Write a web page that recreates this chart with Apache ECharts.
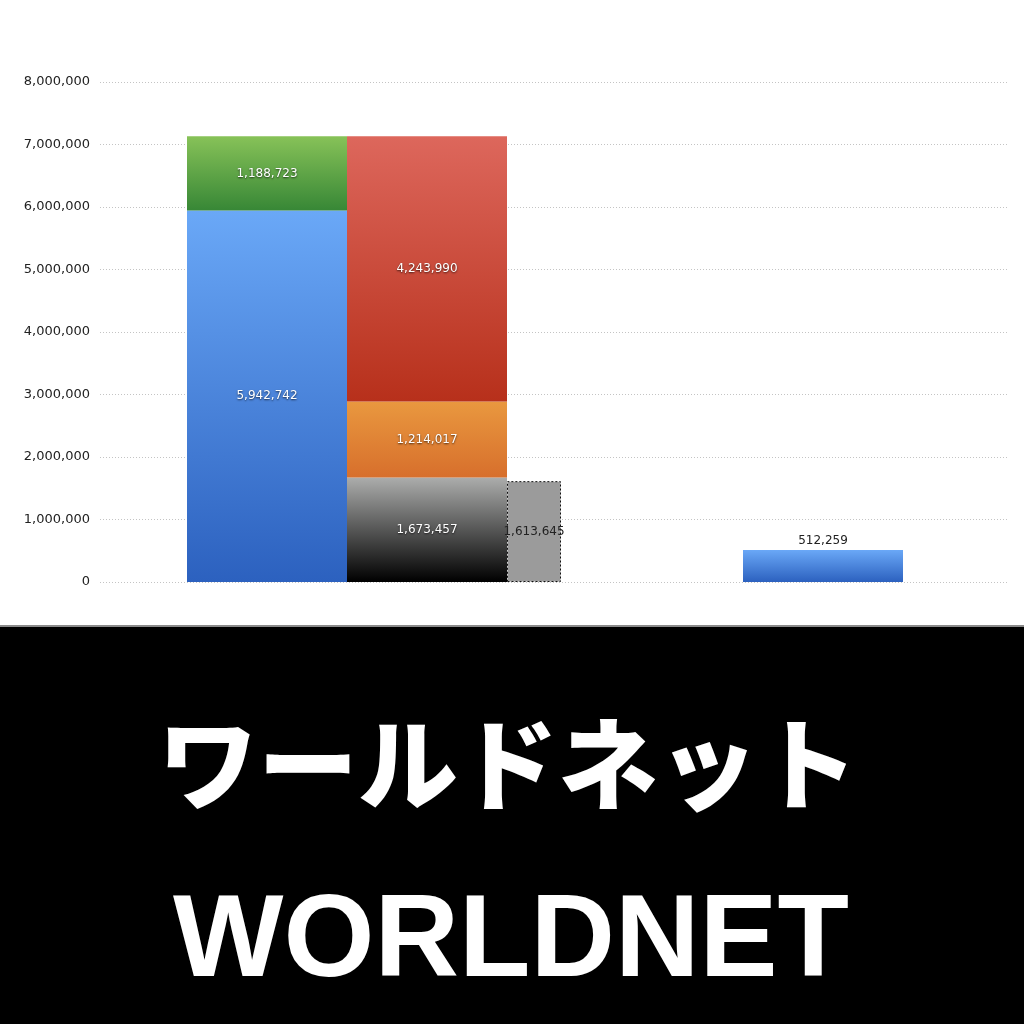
<html>
  <head>
    <meta charset="utf-8" />
    <script src="https://cdn.jsdelivr.net/npm/echarts@6/dist/echarts.min.js"></script>
  </head>
  <body>
    <style>
      html,
      body,
      #main {
        width: 100%;
        height: 100%;
        margin: 0;
        background: #fff;
      }
    </style>
    <div id="main"></div>
    <script>
      var chart = echarts.init(document.getElementById('main'));

      // two groups on the x axis (labels are not shown in the picture)
      const categories = ['group1', 'group2'];
      // left column: blue + green, plus the lone blue bar in group 2
      const blueValues = [5942742, 512259];
      const greenValues = [1188723, null];
      // middle column: black + orange + red
      const blackValues = [1673457, null];
      const orangeValues = [1214017, null];
      const redValues = [4243990, null];
      // narrow grey column
      const grayValues = [1613645, null];
      const yTicks = { min: 0, max: 8000000, interval: 1000000 };

      const fmt = function (v) {
        return Number(v).toLocaleString('en-US');
      };

      function grad(top, bottom) {
        return {
          type: 'linear', x: 0, y: 0, x2: 0, y2: 1,
          colorStops: [
            { offset: 0, color: top },
            { offset: 1, color: bottom }
          ]
        };
      }

      var inLabel = {
        show: true,
        position: 'inside',
        color: '#fff',
        fontFamily: 'DejaVu Sans',
        fontSize: 12,
        textShadowColor: 'rgba(0,0,0,0.7)',
        textShadowBlur: 2,
        textShadowOffsetY: 1,
        formatter: function (p) { return fmt(p.value); }
      };

      function bar(name, stack, width, data, color, extra) {
        var s = {
          name: name,
          type: 'bar',
          xAxisIndex: 1,
          yAxisIndex: 1,
          stack: stack,
          barWidth: width,
          clip: false,
          data: data,
          itemStyle: { color: color },
          label: inLabel
        };
        return Object.assign(s, extra || {});
      }

      var plainLabel = {
        color: '#222',
        textShadowBlur: 0,
        textShadowOffsetY: 0,
        textShadowColor: 'transparent'
      };

      var blueData = blueValues.map(function (v, i) {
        if (i === 1) {
          return {
            value: v,
            label: Object.assign({ position: 'top', distance: 3 }, plainLabel)
          };
        }
        return v;
      });

      var option = {
        animation: false,
        grid: [
          { left: 100, right: 17, top: 82, bottom: 442 },
          { left: 374, right: 94, top: 82, bottom: 442 }
        ],
        xAxis: [
          { type: 'category', gridIndex: 0, data: [''], show: false },
          {
            type: 'category', gridIndex: 1, data: categories,
            boundaryGap: false, show: false
          }
        ],
        yAxis: [
          {
            type: 'value', gridIndex: 0,
            min: yTicks.min, max: yTicks.max, interval: yTicks.interval,
            axisLine: { show: false },
            axisTick: { show: false },
            axisLabel: {
              color: '#222',
              fontFamily: 'DejaVu Sans',
              fontSize: 13,
              margin: 10,
              formatter: fmt
            },
            splitLine: {
              lineStyle: { color: '#c4c4c4', type: [1, 2], width: 1 }
            }
          },
          {
            type: 'value', gridIndex: 1,
            min: yTicks.min, max: yTicks.max, interval: yTicks.interval,
            show: false,
            splitLine: { show: false }
          }
        ],
        series: [
          bar('blue', 'left', 160, blueData, grad('#6aa8f7', '#2c61bf')),
          bar('green', 'left', 160, greenValues, grad('#87c258', '#378736')),
          bar('black', 'mid', 160, blackValues, grad('#acadac', '#000000')),
          bar('orange', 'mid', 160, orangeValues, grad('#e9983f', '#d76f2c')),
          bar('red', 'mid', 160, redValues, grad('#dd675c', '#b7301b')),
          bar('gray', 'right', 54, grayValues, '#9b9b9b', {
            barGap: '0%',
            itemStyle: {
              color: '#9b9b9b',
              borderColor: '#111',
              borderWidth: 1,
              borderType: [2, 2]
            },
            label: Object.assign({}, inLabel, plainLabel)
          })
        ],
        graphic: [
          {
            type: 'rect',
            shape: { x: 0, y: 625, width: 1024, height: 399 },
            style: { fill: '#000' },
            silent: true
          },
          {
            type: 'rect',
            shape: { x: 0, y: 625, width: 1024, height: 2 },
            style: { fill: '#8a8a8a' },
            silent: true
          },
          {
            type: 'text',
            x: 508,
            y: 764,
            style: {
              text: 'ワールドネット',
              fill: '#fff',
              font: '900 100px "Noto Sans CJK JP"',
              align: 'center',
              verticalAlign: 'middle'
            }
          },
          {
            type: 'text',
            x: 511,
            y: 944,
            style: {
              text: 'WORLDNET',
              fill: '#fff',
              font: 'bold 117px "Liberation Sans"',
              align: 'center',
              verticalAlign: 'middle'
            }
          }
        ]
      };

      chart.setOption(option);

      window.onresize = function () {
        chart.resize();
      };
    </script>
  </body>
</html>
